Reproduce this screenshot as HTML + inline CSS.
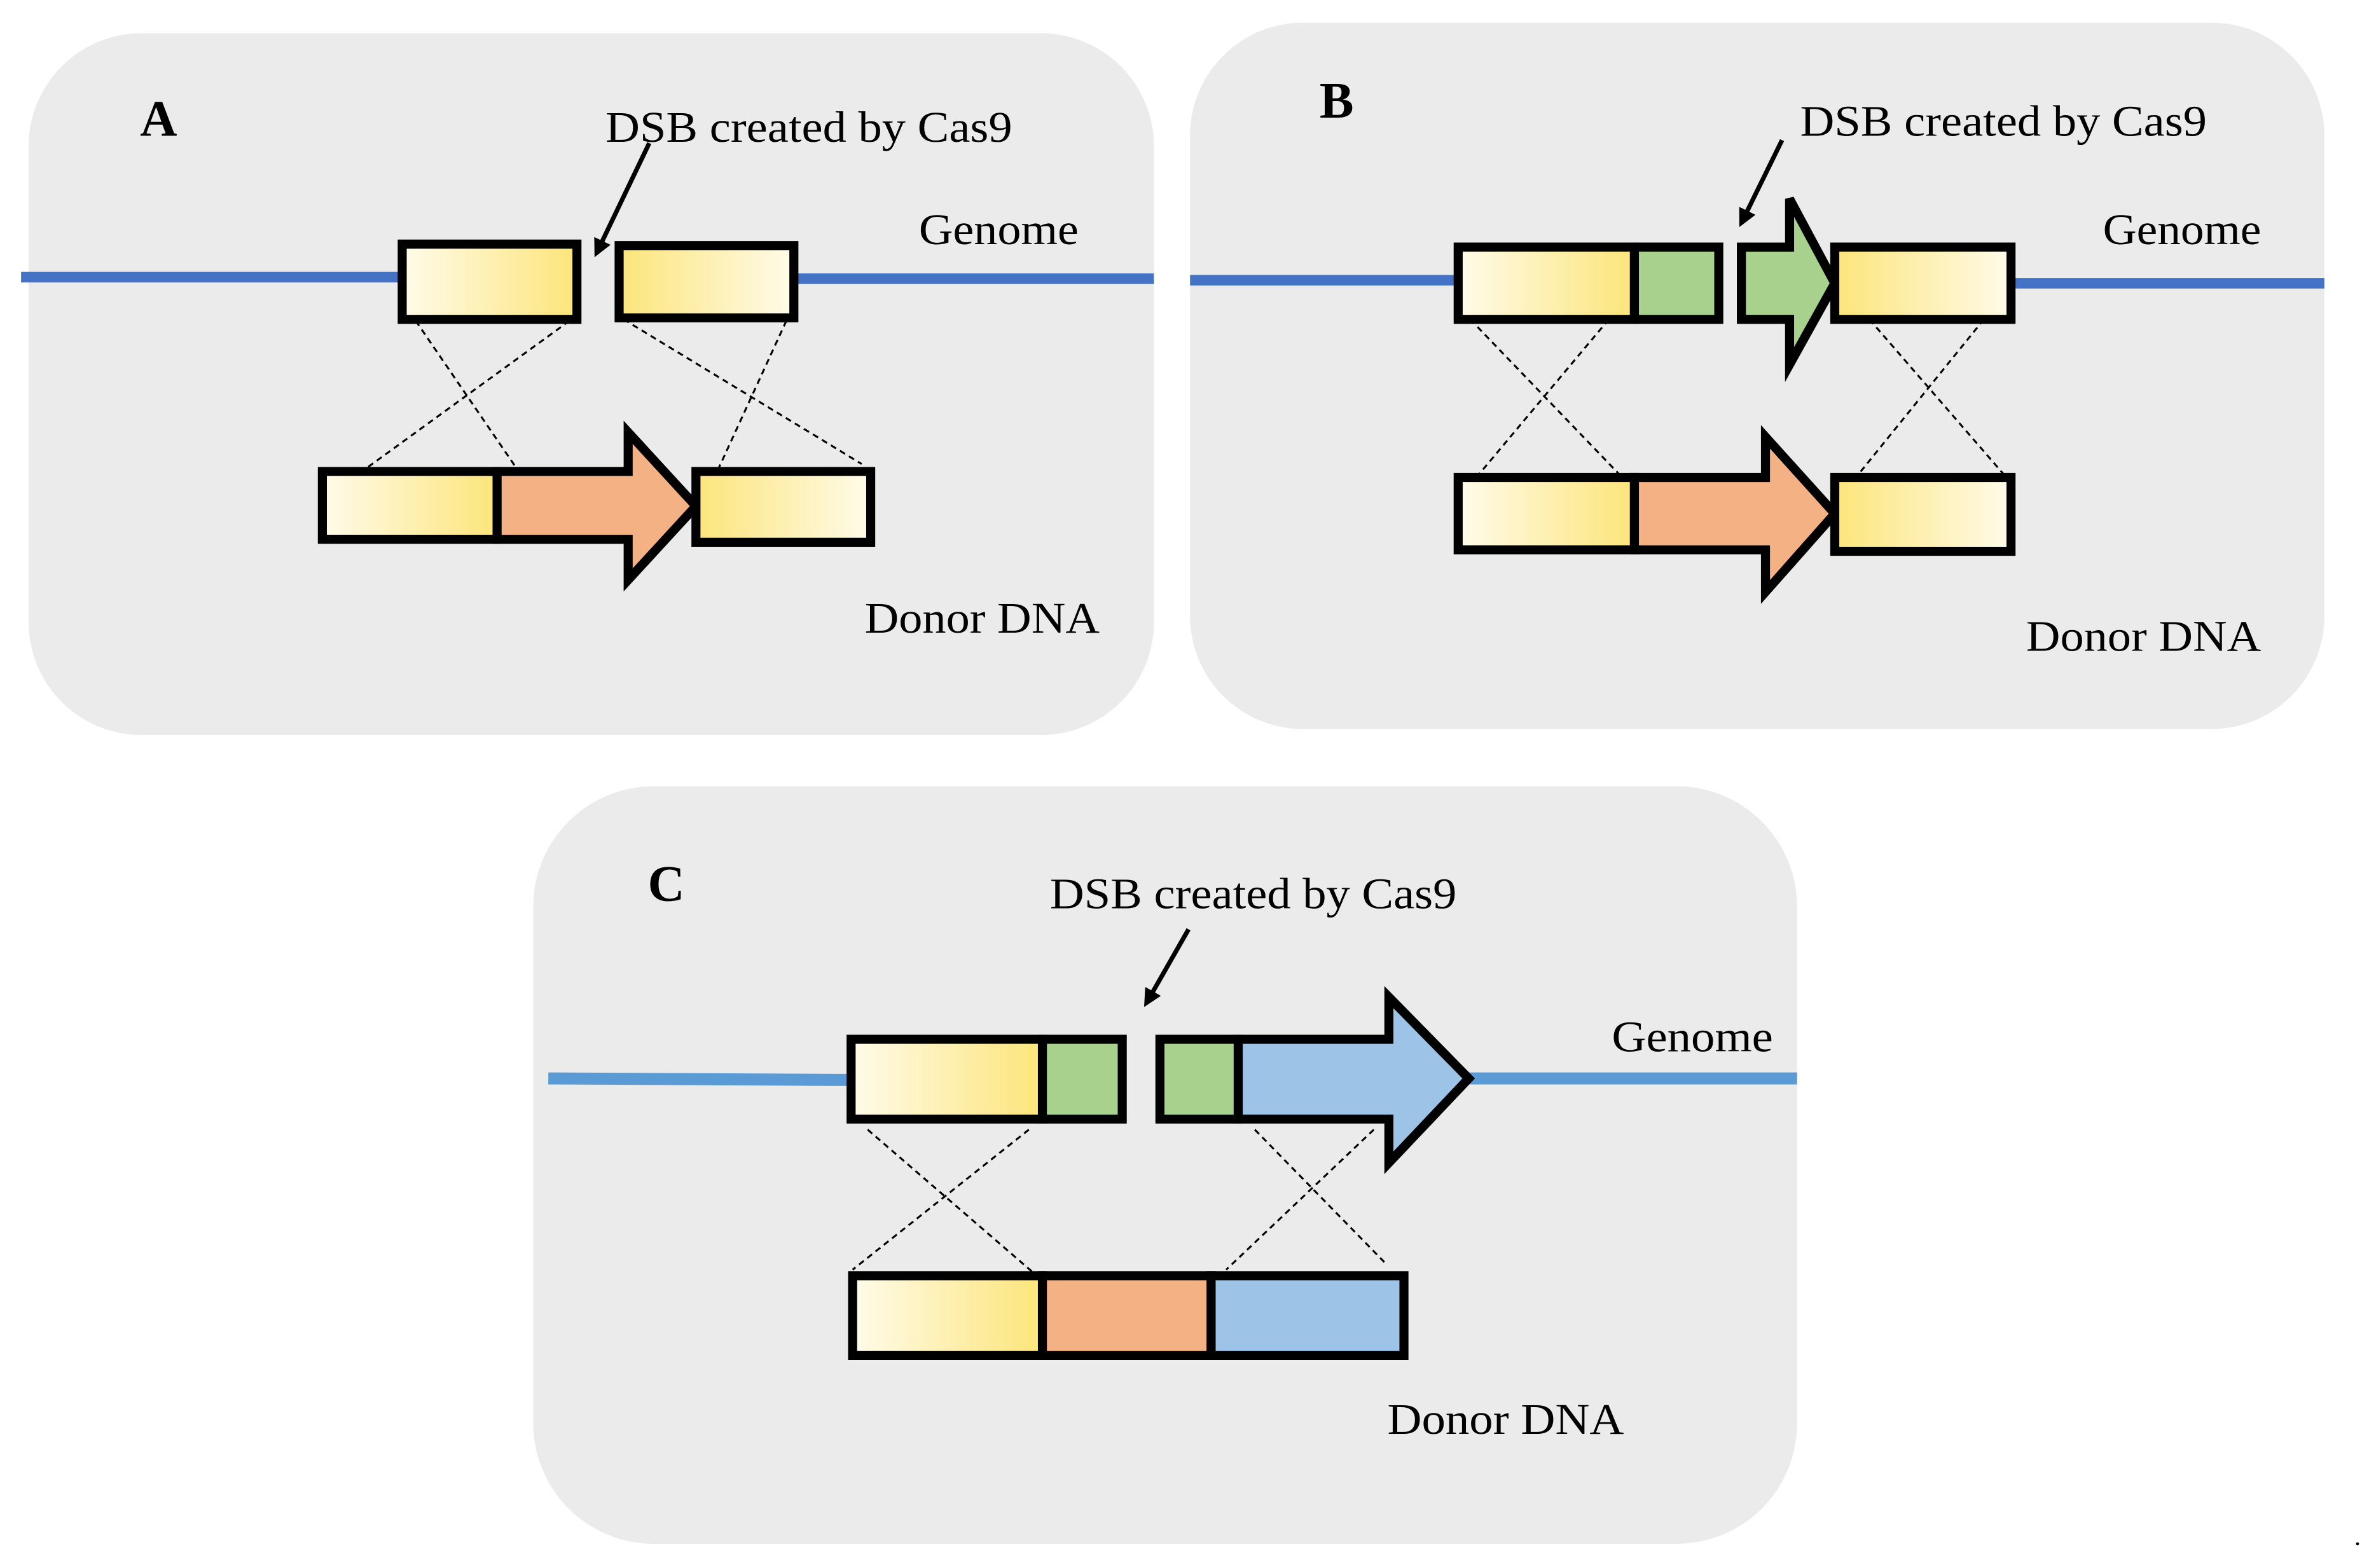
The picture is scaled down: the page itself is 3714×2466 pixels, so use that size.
<!DOCTYPE html>
<html><head><meta charset="utf-8"><style>
html,body{margin:0;padding:0;background:#fff;}
svg{display:block;}
</style></head><body>
<svg width="3714" height="2466" viewBox="0 0 1568 1041" xmlns="http://www.w3.org/2000/svg" font-family="'Liberation Serif','Times New Roman',serif">
<defs>
<linearGradient id="gL" x1="0" x2="1" y1="0" y2="0"><stop offset="0" stop-color="#fffbea"/><stop offset="1" stop-color="#fce57a"/></linearGradient>
<linearGradient id="gR" x1="0" x2="1" y1="0" y2="0"><stop offset="0" stop-color="#fce57a"/><stop offset="1" stop-color="#fffbea"/></linearGradient>
<marker id="ah" markerWidth="12" markerHeight="12" refX="9" refY="6" orient="auto" markerUnits="userSpaceOnUse" viewBox="0 0 12 12"><path d="M0,0 L12,6 L0,12 z" fill="#000"/></marker>
</defs>
<g stroke-linejoin="miter">
<!-- Panel A -->
<rect x="19" y="22" width="747" height="466" rx="75" fill="#ebebeb"/>
<line x1="14" y1="184" x2="267" y2="184" stroke="#4472c4" stroke-width="7"/>
<line x1="527" y1="185" x2="766" y2="185" stroke="#4472c4" stroke-width="7"/>
<g stroke="#000" stroke-width="1.3" stroke-dasharray="4,3" fill="none">
<line x1="276" y1="213" x2="343" y2="311"/><line x1="378" y1="213" x2="243" y2="311"/>
<line x1="414" y1="212" x2="572" y2="308"/><line x1="522" y1="213" x2="477" y2="311"/>
</g>
<rect x="267" y="162" width="116" height="50" fill="url(#gL)" stroke="#000" stroke-width="6"/>
<rect x="411" y="163" width="116" height="48" fill="url(#gR)" stroke="#000" stroke-width="6"/>
<rect x="214" y="313" width="116" height="45" fill="url(#gL)" stroke="#000" stroke-width="6"/>
<path d="M330,313 L417,313 L417,287 L462,336 L417,385 L417,358 L330,358 Z" fill="#f4b183" stroke="#000" stroke-width="6"/>
<rect x="462" y="313" width="116" height="47" fill="url(#gR)" stroke="#000" stroke-width="6"/>
<line x1="431" y1="95" x2="396" y2="168" stroke="#000" stroke-width="3" marker-end="url(#ah)"/>
<text x="93" y="90" font-size="34" font-weight="bold">A</text>
<text x="402" y="94" font-size="29" textLength="270" lengthAdjust="spacingAndGlyphs">DSB created by Cas9</text>
<text x="610" y="162" font-size="29" textLength="106" lengthAdjust="spacingAndGlyphs">Genome</text>
<text x="574" y="420" font-size="29" textLength="156" lengthAdjust="spacingAndGlyphs">Donor DNA</text>
<!-- Panel B -->
<rect x="790" y="15" width="753" height="469" rx="75" fill="#ebebeb"/>
<line x1="790" y1="186" x2="968" y2="186" stroke="#4472c4" stroke-width="7"/>
<line x1="1336" y1="188" x2="1543" y2="188" stroke="#4472c4" stroke-width="7"/>
<g stroke="#000" stroke-width="1.3" stroke-dasharray="4,3" fill="none">
<line x1="976" y1="212" x2="1077" y2="317"/><line x1="1068" y1="212" x2="980" y2="317"/>
<line x1="1241" y1="212" x2="1332" y2="317"/><line x1="1317" y1="212" x2="1232" y2="317"/>
</g>
<rect x="968" y="164" width="117" height="48" fill="url(#gL)" stroke="#000" stroke-width="6"/>
<rect x="1085" y="164" width="56" height="48" fill="#a9d18e" stroke="#000" stroke-width="6"/>
<path d="M1156,164 L1188,164 L1188,132 L1218,188 L1188,242 L1188,212 L1156,212 Z" fill="#a9d18e" stroke="#000" stroke-width="6"/>
<rect x="1218" y="164" width="117" height="48" fill="url(#gR)" stroke="#000" stroke-width="6"/>
<rect x="968" y="317" width="117" height="48" fill="url(#gL)" stroke="#000" stroke-width="6"/>
<path d="M1085,317 L1172,317 L1172,290 L1218,341 L1172,393 L1172,365 L1085,365 Z" fill="#f4b183" stroke="#000" stroke-width="6"/>
<rect x="1218" y="317" width="117" height="49" fill="url(#gR)" stroke="#000" stroke-width="6"/>
<line x1="1183" y1="93" x2="1156" y2="148" stroke="#000" stroke-width="3" marker-end="url(#ah)"/>
<text x="876" y="78" font-size="34" font-weight="bold">B</text>
<text x="1195" y="90" font-size="29" textLength="270" lengthAdjust="spacingAndGlyphs">DSB created by Cas9</text>
<text x="1396" y="162" font-size="29" textLength="105" lengthAdjust="spacingAndGlyphs">Genome</text>
<text x="1345" y="432" font-size="29" textLength="156" lengthAdjust="spacingAndGlyphs">Donor DNA</text>
<!-- Panel C -->
<rect x="354" y="522" width="839" height="503" rx="80" fill="#ebebeb"/>
<line x1="364" y1="716" x2="565" y2="717" stroke="#5b9bd5" stroke-width="8"/>
<line x1="975" y1="716" x2="1193" y2="716" stroke="#5b9bd5" stroke-width="8"/>
<g stroke="#000" stroke-width="1.3" stroke-dasharray="4,3" fill="none">
<line x1="576" y1="750" x2="686" y2="845"/><line x1="683" y1="750" x2="566" y2="843"/>
<line x1="833" y1="750" x2="921" y2="840"/><line x1="912" y1="750" x2="814" y2="843"/>
</g>
<rect x="565" y="690" width="127" height="53" fill="url(#gL)" stroke="#000" stroke-width="6"/>
<rect x="692" y="690" width="53" height="53" fill="#a9d18e" stroke="#000" stroke-width="6"/>
<rect x="770" y="690" width="52" height="53" fill="#a9d18e" stroke="#000" stroke-width="6"/>
<path d="M822,690 L922,690 L922,662 L975,716 L922,772 L922,743 L822,743 Z" fill="#9dc3e6" stroke="#000" stroke-width="6"/>
<rect x="566" y="847" width="126" height="53" fill="url(#gL)" stroke="#000" stroke-width="6"/>
<rect x="692" y="847" width="112" height="53" fill="#f4b183" stroke="#000" stroke-width="6"/>
<rect x="804" y="847" width="128" height="53" fill="#9dc3e6" stroke="#000" stroke-width="6"/>
<line x1="789" y1="617" x2="761" y2="666" stroke="#000" stroke-width="3" marker-end="url(#ah)"/>
<text x="430" y="598" font-size="34" font-weight="bold">C</text>
<text x="697" y="603" font-size="29" textLength="270" lengthAdjust="spacingAndGlyphs">DSB created by Cas9</text>
<text x="1070" y="698" font-size="29" textLength="107" lengthAdjust="spacingAndGlyphs">Genome</text>
<text x="921" y="952" font-size="29" textLength="157" lengthAdjust="spacingAndGlyphs">Donor DNA</text>
<circle cx="1565" cy="1025" r="1" fill="#000"/>
</g>
</svg>
</body></html>
